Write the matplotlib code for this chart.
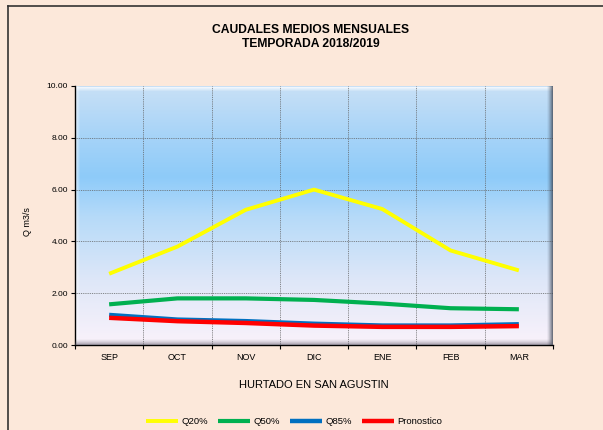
import numpy as np
import matplotlib
matplotlib.use("Agg")
import matplotlib.pyplot as plt
from matplotlib.colors import LinearSegmentedColormap
from matplotlib.lines import Line2D

months = ["SEP", "OCT", "NOV", "DIC", "ENE", "FEB", "MAR"]
q20 = [2.75, 3.80, 5.22, 6.00, 5.25, 3.65, 2.88]
q50 = [1.57, 1.80, 1.80, 1.74, 1.60, 1.42, 1.38]
q85 = [1.16, 0.98, 0.92, 0.82, 0.75, 0.75, 0.80]
pron = [1.05, 0.92, 0.85, 0.75, 0.70, 0.70, 0.73]
yticks = [0, 2, 4, 6, 8, 10]

plt.rcParams['font.family'] = ['Liberation Sans', 'DejaVu Sans']

bg = "#FCE8DA"
fig = plt.figure(figsize=(6.03, 4.30), dpi=100, facecolor=bg)
W, H = 603, 430
ax = fig.add_axes([75 / W, 1 - 345 / H, (553 - 75) / W, (345 - 86) / H])

# outer frame (left/top)
fig.add_artist(Line2D([8 / W, 8 / W], [0, 1 - 6 / H], transform=fig.transFigure, color="#333333", lw=1.2))
fig.add_artist(Line2D([8 / W, 1], [1 - 6 / H, 1 - 6 / H], transform=fig.transFigure, color="#333333", lw=1.2))

# background gradient
cmap = LinearSegmentedColormap.from_list("bgc", [
    (0.0, "#FAF2FB"), (0.25, "#DEE7F8"), (0.5, "#B5DAF9"),
    (0.65, "#8ECBF9"), (0.8, "#A5D3F8"), (1.0, "#C8E0F6")])
grad = np.linspace(0, 1, 256).reshape(-1, 1)
ax.imshow(grad, cmap=cmap, aspect="auto", extent=[0, 1, 0, 1], origin="lower",
          transform=ax.transAxes, zorder=0)

# bevel: highlight on top/left, soft shadow on right/bottom
pw, ph = 478.0, 259.0
for i in range(4):
    a = 0.75 * (1 - i / 4)
    yy = 1 - (i + 0.5) / ph
    ax.add_artist(Line2D([0, 1], [yy, yy], transform=ax.transAxes, color="white", lw=0.75, alpha=a, zorder=1))
    xx = (i + 0.5) / pw
    ax.add_artist(Line2D([xx, xx], [0, 1], transform=ax.transAxes, color="white", lw=0.75, alpha=a * 0.7, zorder=1))
for i in range(7):
    a = 0.9 * (1 - i / 7) ** 1.5
    xx = 1 - (i + 0.5) / pw
    ax.add_artist(Line2D([xx, xx], [0, 1], transform=ax.transAxes, color="#3A4250", lw=0.75, alpha=a, zorder=4))
    yy = (i + 0.5) / ph
    ax.add_artist(Line2D([0, 1], [yy, yy], transform=ax.transAxes, color="#5A5666", lw=0.75, alpha=a * 0.7, zorder=4))

x = np.arange(len(months))
ax.plot(x, q20, color="#FFFF00", lw=2.8, zorder=3, label="Q20%", solid_capstyle="butt")
ax.plot(x, q50, color="#00B050", lw=3.0, zorder=3, label="Q50%", solid_capstyle="butt")
ax.plot(x, q85, color="#0070C0", lw=3.2, zorder=3, label="Q85%", solid_capstyle="butt")
ax.plot(x, pron, color="#FF0000", lw=3.2, zorder=3, label="Pronostico", solid_capstyle="butt")

ax.set_xlim(-0.5, len(months) - 0.5)
ax.set_ylim(0, 10)
ax.set_yticks(yticks)
ax.set_yticklabels([f"{v:.2f}" for v in yticks], fontsize=6)
ax.set_xticks(x)
ax.set_xticklabels(months, fontsize=6.5)
ax.set_xticks(np.arange(-0.5, len(months)), minor=True)
ax.tick_params(axis="x", which="major", length=0, pad=6)
ax.tick_params(axis="x", which="minor", length=3, width=0.8, direction="out")
ax.tick_params(axis="y", length=3, width=0.8, pad=2)
for v in yticks[1:-1]:
    ax.axhline(v, color="#606060", lw=0.55, ls=(0, (1.2, 1.2)), zorder=2)
for b in np.arange(0.5, len(months) - 1):
    ax.axvline(b, color="#606060", lw=0.55, ls=(0, (1.2, 1.2)), zorder=2)

for s in ["top", "right"]:
    ax.spines[s].set_visible(False)
ax.spines["left"].set_linewidth(1.0)
ax.spines["bottom"].set_linewidth(1.0)

fig.text(28 / W, 1 - 222 / H, "Q m3/s", rotation=90, ha="center", va="center", fontsize=6.5)
ax.set_xlabel("HURTADO EN SAN AGUSTIN", fontsize=8, labelpad=13)

fig.text(311 / W, 1 - 30 / H, "CAUDALES MEDIOS MENSUALES", ha="center", va="center", fontsize=8.7, fontweight="bold")
fig.text(311 / W, 1 - 44 / H, "TEMPORADA 2018/2019", ha="center", va="center", fontsize=8.7, fontweight="bold")

leg = fig.legend(loc="center", bbox_to_anchor=(294 / W, 1 - 422 / H), ncol=4, frameon=False,
                 fontsize=6.8, handlelength=3.4, handletextpad=0.3, columnspacing=1.1)

fig.savefig("out.png", dpi=100, facecolor=bg)
